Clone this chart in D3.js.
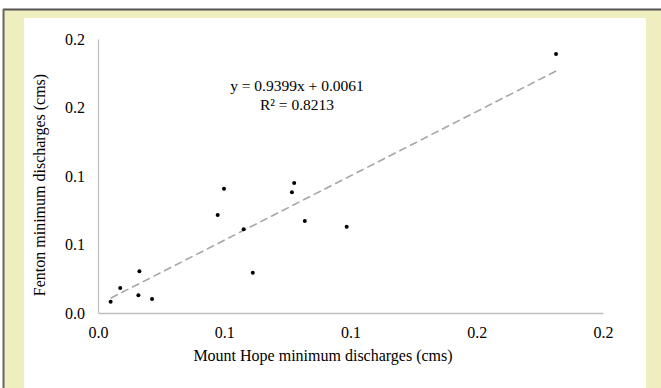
<!DOCTYPE html>
<html>
<head>
<meta charset="utf-8">
<script src="https://cdn.jsdelivr.net/npm/d3@7"></script>
<style>
  html, body { margin: 0; padding: 0; background: #fff; }
  svg { display: block; }
  text { font-family: "Liberation Serif", "Times New Roman", serif; fill: #000; }
</style>
</head>
<body>
<div id="chart"></div>
<script>
// Mount Hope vs Fenton minimum discharges (cms)
const mountHope = [0.0050, 0.0088, 0.0164, 0.0160, 0.0214, 0.0474, 0.0499, 0.0577, 0.0613, 0.0768, 0.0777, 0.0819, 0.0985, 0.1814];
const fenton    = [0.0083, 0.0183, 0.0305, 0.0129, 0.0102, 0.0715, 0.0907, 0.0611, 0.0294, 0.0881, 0.0949, 0.0672, 0.0630, 0.1891];

const tickValues = [0, 0.05, 0.1, 0.15, 0.2];
const tickLabels = ["0.0", "0.1", "0.1", "0.2", "0.2"];

const slope = 0.9399, intercept = 0.0061;
const eqText = ["y = 0.9399x + 0.0061", "R² = 0.8213"];

const width = 661, height = 388;
const plotLeft = 98, plotRight = 603, plotTop = 39, plotBottom = 313;

const svg = d3.select("#chart").append("svg")
  .attr("width", width)
  .attr("height", height);

// frame: white strip on top, yellow surround, inner white panel
svg.append("rect").attr("x", 4).attr("y", 10).attr("width", width - 4).attr("height", height - 10).attr("fill", "#efeebf");
svg.append("rect").attr("x", 24).attr("y", 18).attr("width", 622).attr("height", height - 18).attr("fill", "#fff");
svg.append("line").attr("x1", 3).attr("x2", width).attr("y1", 9.5).attr("y2", 9.5).attr("stroke", "#555").attr("stroke-width", 2);
svg.append("line").attr("x1", 3.5).attr("x2", 3.5).attr("y1", 9).attr("y2", height).attr("stroke", "#666").attr("stroke-width", 2);

const x = d3.scaleLinear().domain([0, 0.2]).range([plotLeft, plotRight]);
const y = d3.scaleLinear().domain([0, 0.2]).range([plotBottom, plotTop]);

// axes (no tick marks, just lines + labels)
const xAxis = d3.axisBottom(x).tickValues(tickValues).tickSize(0).tickPadding(14)
  .tickFormat((d, i) => tickLabels[i]);
const yAxis = d3.axisLeft(y).tickValues(tickValues).tickSize(0).tickPadding(13)
  .tickFormat((d, i) => tickLabels[i]);

const gx = svg.append("g").attr("transform", `translate(0,${plotBottom})`).call(xAxis);
const gy = svg.append("g").attr("transform", `translate(${plotLeft},0)`).call(yAxis);
[gx, gy].forEach(g => {
  g.select(".domain").attr("stroke", "#bfbfbf").attr("stroke-width", 1.3);
  g.selectAll("text").style("font-family", '"Liberation Serif", serif').style("font-size", "16px");
});

// trendline
const xs = d3.extent(mountHope);
svg.append("line")
  .attr("x1", x(xs[0])).attr("y1", y(slope * xs[0] + intercept))
  .attr("x2", x(xs[1])).attr("y2", y(slope * xs[1] + intercept))
  .attr("stroke", "#a6a6a6")
  .attr("stroke-width", 1.6)
  .attr("stroke-dasharray", "8,4");

// points
svg.selectAll("circle.pt")
  .data(mountHope.map((d, i) => [d, fenton[i]]))
  .join("circle")
  .attr("class", "pt")
  .attr("cx", d => x(d[0]))
  .attr("cy", d => y(d[1]))
  .attr("r", 2)
  .attr("fill", "#000");

// equation
svg.append("text").attr("x", 297).attr("y", 91).attr("text-anchor", "middle")
  .style("font-size", "15.5px").text(eqText[0]);
svg.append("text").attr("x", 297).attr("y", 110).attr("text-anchor", "middle")
  .style("font-size", "15.5px").text(eqText[1]);

// axis titles
svg.append("text").attr("x", 323).attr("y", 361).attr("text-anchor", "middle")
  .style("font-size", "16px").text("Mount Hope minimum discharges (cms)");
svg.append("text").attr("transform", `translate(45,${(plotTop + plotBottom) / 2 + 9}) rotate(-90)`)
  .attr("text-anchor", "middle")
  .style("font-size", "16px").text("Fenton minimum discharges (cms)");
</script>
</body>
</html>
